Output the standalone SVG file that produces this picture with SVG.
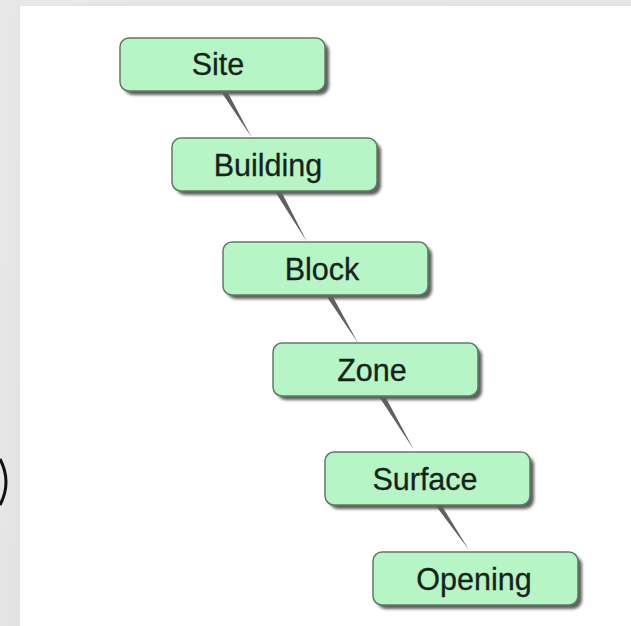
<svg xmlns="http://www.w3.org/2000/svg" width="631" height="626" viewBox="0 0 631 626">
  <defs>
    <filter id="sh" x="-10%" y="-20%" width="130%" height="150%">
      <feGaussianBlur stdDeviation="1.5"/>
    </filter>
    <linearGradient id="bg" x1="0" y1="0" x2="1" y2="1">
      <stop offset="0" stop-color="#e9e9e9"/>
      <stop offset="1" stop-color="#e2e2e2"/>
    </linearGradient>
  </defs>
  <style>
    .shadow { fill: #5e5e5e; filter: url(#sh); }
    .box { fill: #b8f5c6; stroke: #5e7a64; stroke-width: 1.5; }
    .lbl { font-family: "Liberation Sans", Arial, sans-serif; font-size: 30.5px; fill: #14241a; stroke: #14241a; stroke-width: 0.3; text-anchor: middle; }
    .conn { fill: #606060; }
  </style>
  <rect x="0" y="0" width="631" height="626" fill="#ffffff"/>
  <rect x="0" y="0" width="631" height="6" fill="url(#bg)"/>
  <rect x="0" y="0" width="20" height="626" fill="url(#bg)"/>
  <path d="M 0 459 Q 12 482 0 505" fill="none" stroke="#111" stroke-width="3"/>

  <g id="connectors">
    <polygon class="conn" points="222,93 228,93 252,138"/>
    <polygon class="conn" points="276,193 282,193 307,242"/>
    <polygon class="conn" points="327,297 333,297 358,343"/>
    <polygon class="conn" points="380,398 386,398 414,450"/>
    <polygon class="conn" points="436,506 442,506 469,550"/>
  </g>

  <g id="site">
    <rect class="shadow" x="124" y="42" width="205" height="53" rx="9"/>
    <rect class="box" x="120" y="38" width="205" height="53" rx="9"/>
    <text class="lbl" x="218" y="75">Site</text>
  </g>
  <g id="building">
    <rect class="shadow" x="176" y="142" width="205" height="53" rx="9"/>
    <rect class="box" x="172" y="138" width="205" height="53" rx="9"/>
    <text class="lbl" x="268" y="176">Building</text>
  </g>
  <g id="block">
    <rect class="shadow" x="227" y="246" width="205" height="53" rx="9"/>
    <rect class="box" x="223" y="242" width="205" height="53" rx="9"/>
    <text class="lbl" x="322" y="280">Block</text>
  </g>
  <g id="zone">
    <rect class="shadow" x="277" y="347" width="205" height="53" rx="9"/>
    <rect class="box" x="273" y="343" width="205" height="53" rx="9"/>
    <text class="lbl" x="372" y="381">Zone</text>
  </g>
  <g id="surface">
    <rect class="shadow" x="329" y="456" width="205" height="53" rx="9"/>
    <rect class="box" x="325" y="452" width="205" height="53" rx="9"/>
    <text class="lbl" x="425" y="490">Surface</text>
  </g>
  <g id="opening">
    <rect class="shadow" x="377" y="556" width="205" height="53" rx="9"/>
    <rect class="box" x="373" y="552" width="205" height="53" rx="9"/>
    <text class="lbl" x="474" y="590">Opening</text>
  </g>
</svg>
